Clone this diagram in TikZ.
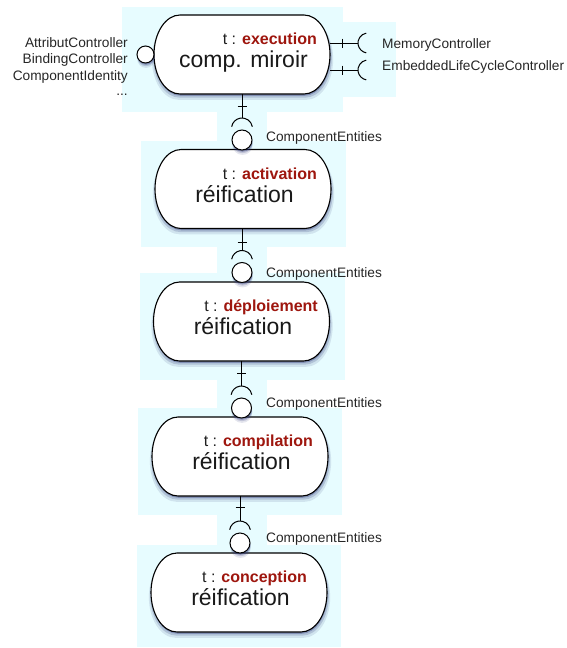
\documentclass[tikz,border=0pt]{standalone}
\usepackage{fontspec}
\setmainfont{Liberation Sans}
\usetikzlibrary{positioning,shadows}

\definecolor{selcyan}{RGB}{231,252,255}
\definecolor{phasered}{RGB}{158,22,14}
\definecolor{shadowblue}{RGB}{45,55,120}

% contour d'un composant (coins elliptiques)
\newcommand\phaseshape[1]{%
  \draw[phaseline] ([xshift=26pt]#1.north west) -- ([xshift=-26pt]#1.north east)
    arc[start angle=90,end angle=-90,x radius=26pt,y radius=39.5pt]
    -- ([xshift=26pt]#1.south west)
    arc[start angle=270,end angle=90,x radius=26pt,y radius=39.5pt] -- cycle;}

\begin{document}
\begin{tikzpicture}[x=1pt,y=1pt,
  softshadow/.style={
    drop shadow={shadow xshift=.5pt,shadow yshift=-4.5pt,shadow scale=1.03,fill=shadowblue,opacity=.12},
    drop shadow={shadow xshift=.5pt,shadow yshift=-3pt,shadow scale=1.015,fill=shadowblue,opacity=.2},
    drop shadow={shadow xshift=.5pt,shadow yshift=-1.8pt,fill=shadowblue,opacity=.35}},
  phase/.style={minimum width=176pt,minimum height=79pt,inner sep=0pt,outer sep=0pt},
  phaseline/.style={draw,line width=1.1pt,fill=white,softshadow},
  ball/.style={draw,line width=1pt,fill=white,circle,minimum size=20pt,
    inner sep=0pt,outer sep=0pt,softshadow},
  wire/.style={line width=1pt},
  phasetitle/.style={font=\fontsize{16}{19}\selectfont,text=black!88,anchor=base east,inner sep=0pt},
  phasename/.style={font=\fontsize{23}{27}\selectfont,text=black!90,anchor=base,inner sep=0pt},
  sidelabel/.style={font=\fontsize{13.7}{16.7}\selectfont,text=black!85,inner sep=0pt}]
  \useasboundingbox (0,0) rectangle (567,-648);
  % zones de selection
  \fill[selcyan] (122,-7) rectangle (343,-112);
  \fill[selcyan] (343,-22) rectangle (396,-97);
  \fill[selcyan] (217,-112) rectangle (267,-141);
  \fill[selcyan] (141,-141) rectangle (346,-247);
  \fill[selcyan] (217,-247) rectangle (267,-273);
  \fill[selcyan] (140,-273) rectangle (345,-380);
  \fill[selcyan] (217,-380) rectangle (267,-408);
  \fill[selcyan] (138,-408) rectangle (342,-515);
  \fill[selcyan] (217,-515) rectangle (267,-545);
  \fill[selcyan] (137,-545) rectangle (341,-647);

  % composants
  \node[phase] (exec) at (242,-54.5) {};
  \node[phase] (act) at (243,-189) {};
  \node[phase] (depl) at (241.5,-321.5) {};
  \node[phase] (compil) at (240,-456.5) {};
  \node[phase] (concep) at (239,-592.5) {};
  \phaseshape{exec}
  \phaseshape{act}
  \phaseshape{depl}
  \phaseshape{compil}
  \phaseshape{concep}

  \node[phasetitle] (exec-t) at (317,-44.5) {t : \textbf{\textcolor{phasered}{execution}}};
  \node[phasename] (exec-n) at (243.5,-67.5) {comp. miroir};
  \node[phasetitle] (act-t) at (317,-179) {t : \textbf{\textcolor{phasered}{activation}}};
  \node[phasename] (act-n) at (244.5,-202) {réification};
  \node[phasetitle] (depl-t) at (318,-311.5) {t : \textbf{\textcolor{phasered}{déploiement}}};
  \node[phasename] (depl-n) at (243,-334.5) {réification};
  \node[phasetitle] (compil-t) at (313,-446.5) {t : \textbf{\textcolor{phasered}{compilation}}};
  \node[phasename] (compil-n) at (241.5,-469.5) {réification};
  \node[phasetitle] (concep-t) at (307,-582.5) {t : \textbf{\textcolor{phasered}{conception}}};
  \node[phasename] (concep-n) at (240.5,-605.5) {réification};

  % interfaces fournies
  \node[ball,minimum size=17pt,left=0pt of exec] (ctrl) {};
  \node[ball] (b1) at (242,-140) {};
  \node[ball] (b2) at (242,-272.5) {};
  \node[ball] (b3) at (241.5,-408) {};
  \node[ball] (b4) at (240,-543) {};

  % interfaces requises
  \coordinate (c1) at (b1 |- exec.south);
  \draw[wire] (c1) -- ([yshift=22pt]b1.center);
  \draw[wire] ([shift={(-4.5pt,-12.5pt)}]c1) -- +(9,0);
  \draw[wire] ([shift={(10.34pt,13.32pt)}]b1.center) arc[start angle=10,end angle=170,radius=10.5pt];

  \coordinate (c2) at (b2 |- act.south);
  \draw[wire] (c2) -- ([yshift=22pt]b2.center);
  \draw[wire] ([shift={(-4.5pt,-13.5pt)}]c2) -- +(9,0);
  \draw[wire] ([shift={(10.34pt,13.32pt)}]b2.center) arc[start angle=10,end angle=170,radius=10.5pt];

  \coordinate (c3) at (b3 |- depl.south);
  \draw[wire] (c3) -- ([yshift=22pt]b3.center);
  \draw[wire] ([shift={(-4.5pt,-12pt)}]c3) -- +(9,0);
  \draw[wire] ([shift={(10.34pt,13.32pt)}]b3.center) arc[start angle=10,end angle=170,radius=10.5pt];

  \coordinate (c4) at (b4 |- compil.south);
  \draw[wire] (c4) -- ([yshift=22pt]b4.center);
  \draw[wire] ([shift={(-4.5pt,-11.5pt)}]c4) -- +(9,0);
  \draw[wire] ([shift={(10.34pt,13.32pt)}]b4.center) arc[start angle=10,end angle=170,radius=10.5pt];

  \coordinate (memory) at (358,-43);
  \draw[wire] (memory -| exec.east) -- (memory);
  \draw[wire] ([shift={(-16pt,4.5pt)}]memory) -- +(0,-9);
  \draw[wire] ([shift={(8.26pt,9.85pt)}]memory) arc[start angle=100,end angle=260,radius=10pt];

  \coordinate (lifecycle) at (358,-70);
  \draw[wire] (lifecycle -| exec.east) -- (lifecycle);
  \draw[wire] ([shift={(-16pt,4.5pt)}]lifecycle) -- +(0,-9);
  \draw[wire] ([shift={(8.26pt,9.85pt)}]lifecycle) arc[start angle=100,end angle=260,radius=10pt];

  % etiquettes
  \node[sidelabel,anchor=base east] (ctrl-a) at (128,-47) {AttributController};
  \node[sidelabel,anchor=base east] (ctrl-b) at (128,-63.5) {BindingController};
  \node[sidelabel,anchor=base east] (ctrl-c) at (128,-80) {ComponentIdentity};
  \node[sidelabel,anchor=base east] (ctrl-d) at (128,-95) {...};
  \node[sidelabel,anchor=base west] (memory-l) at (382,-48) {MemoryController};
  \node[sidelabel,anchor=base west] (lifecycle-l) at (382,-70.5) {EmbeddedLifeCycleController};
  \node[sidelabel,anchor=base west] (e1) at (266,-141) {ComponentEntities};
  \node[sidelabel,anchor=base west] (e2) at (266,-277) {ComponentEntities};
  \node[sidelabel,anchor=base west] (e3) at (266,-407) {ComponentEntities};
  \node[sidelabel,anchor=base west] (e4) at (266,-542) {ComponentEntities};
\end{tikzpicture}
\end{document}
